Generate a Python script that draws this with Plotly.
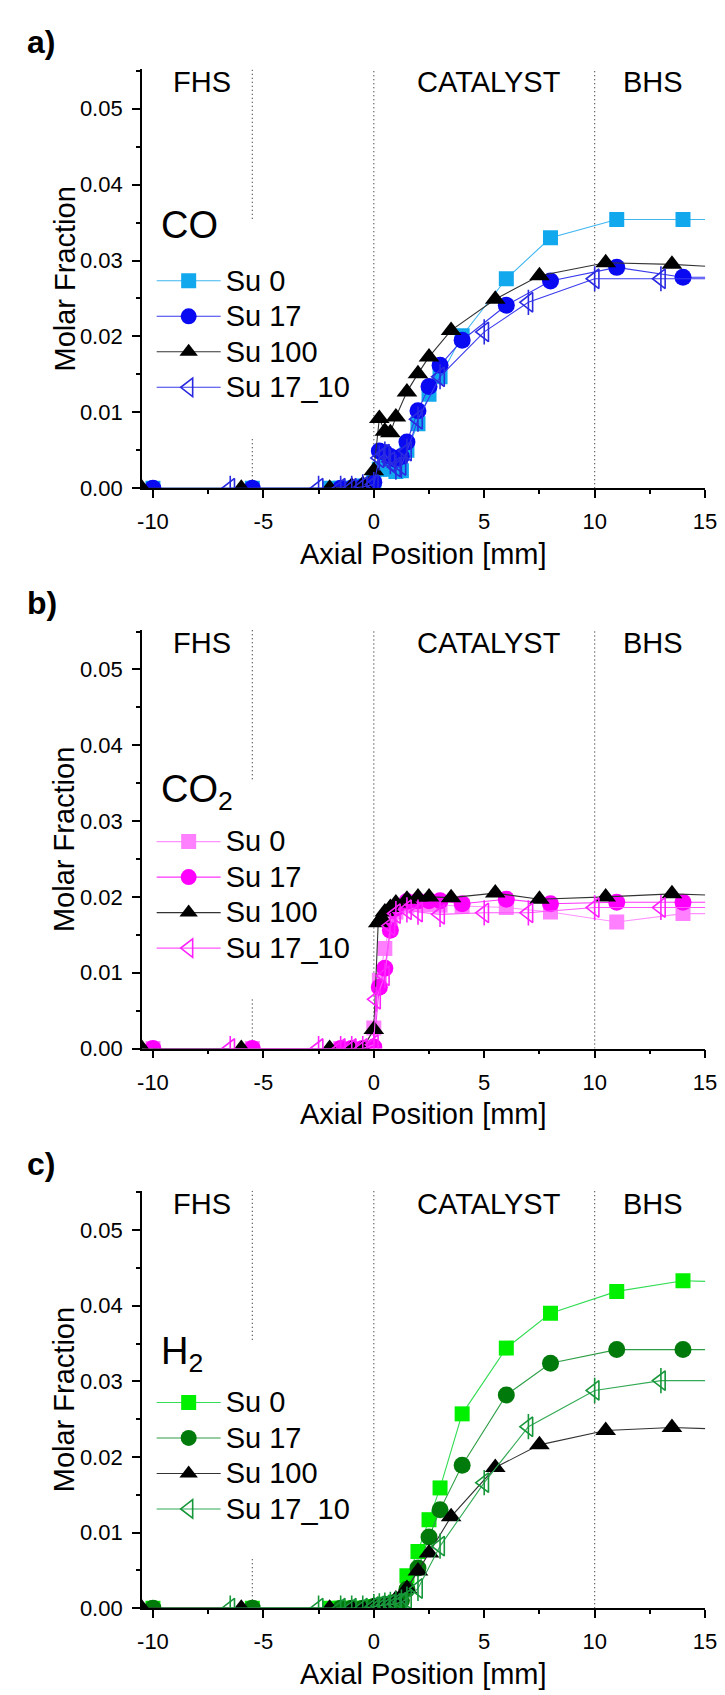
import plotly.graph_objects as go

# ---------------- data ----------------
# Panel a) CO
co_su0_x = [-10, -5.5, -2, -1.5, -1, -0.5, 0, 0.25, 0.5, 0.75, 1.0, 1.25, 1.5, 2.0, 2.5, 3.0, 4.0, 6.0, 8.0, 11.0, 14.0, 17]
co_su0_y = [0, 0, 0, 0, 0, 0.0003, 0.001, 0.0025, 0.003, 0.0025, 0.0022, 0.0023, 0.005, 0.0085, 0.0124, 0.0147, 0.0201, 0.0276, 0.033, 0.0354, 0.0354, 0.0354]
co_su17_x = [-10, -5.5, -1.5, -1, -0.5, 0, 0.25, 0.5, 0.75, 1.0, 1.25, 1.5, 2.0, 2.5, 3.0, 4.0, 6.0, 8.0, 11.0, 14.0, 17]
co_su17_y = [0, 0, 0, 0, 0.0002, 0.0008, 0.0049, 0.0047, 0.0042, 0.0038, 0.0042, 0.0061, 0.0102, 0.0134, 0.0162, 0.0195, 0.0241, 0.0273, 0.0291, 0.0278, 0.0278]
co_su100_x = [-10.5, -6, -2, -1, -0.5, 0, 0.25, 0.5, 0.75, 1.0, 1.5, 2.0, 2.5, 3.5, 5.5, 7.5, 10.5, 13.5, 16.5]
co_su100_y = [0, 0, 0, 0.0003, 0.0005, 0.0023, 0.0092, 0.0075, 0.0073, 0.0094, 0.0127, 0.0151, 0.0173, 0.0208, 0.0249, 0.0280, 0.0297, 0.0295, 0.0290]
co_su1710_x = [-6.5, -2.5, -1.5, -1, -0.5, 0, 0.25, 0.5, 0.75, 1.0, 1.25, 1.5, 2.0, 3.0, 5.0, 7.0, 10.0, 13.0, 17]
co_su1710_y = [0, 0, 0, 0, 0.0002, 0.0005, 0.004, 0.0045, 0.0035, 0.0028, 0.003, 0.0049, 0.0091, 0.0147, 0.0206, 0.0245, 0.0276, 0.0276, 0.0276]

# Panel b) CO2
co2_su0_x = [-10, -5.5, -1.5, -1, -0.5, 0, 0.25, 0.5, 0.75, 1.0, 1.5, 2.0, 2.5, 3.0, 4.0, 6.0, 8.0, 11.0, 14.0, 17]
co2_su0_y = [0, 0, 0, 0, 0, 0.0027, 0.009, 0.0132, 0.0165, 0.018, 0.0188, 0.019, 0.019, 0.0189, 0.0188, 0.0186, 0.018, 0.0167, 0.0178, 0.0178]
co2_su17_x = [-10, -5.5, -1.5, -1, -0.5, 0, 0.25, 0.5, 0.75, 1.0, 1.5, 2.0, 2.5, 3.0, 4.0, 6.0, 8.0, 11.0, 14.0, 17]
co2_su17_y = [0, 0, 0, 0, 0, 0.0002, 0.0081, 0.0106, 0.0156, 0.0185, 0.0194, 0.0195, 0.0195, 0.0195, 0.0191, 0.0197, 0.0191, 0.0193, 0.0193, 0.0193]
co2_su100_x = [-10.5, -6, -2, -1, -0.5, 0, 0.2, 0.35, 0.5, 0.75, 1.0, 1.5, 2.0, 2.5, 3.5, 5.5, 7.5, 10.5, 13.5, 16.5]
co2_su100_y = [0, 0, 0, 0, 0, 0.0025, 0.0166, 0.0172, 0.018, 0.0186, 0.0192, 0.0197, 0.0200, 0.0200, 0.0199, 0.0205, 0.0197, 0.0200, 0.0204, 0.0201]
co2_su1710_x = [-6.5, -2.5, -1.5, -1, -0.5, 0, 0.1, 0.5, 0.75, 1.0, 1.5, 2.0, 3.0, 5.0, 7.0, 10.0, 13.0, 17]
co2_su1710_y = [0, 0, 0, 0, 0, 0.0005, 0.0065, 0.0096, 0.0162, 0.0178, 0.0183, 0.018, 0.0177, 0.0179, 0.0179, 0.0186, 0.0186, 0.0186]

# Panel c) H2
h2_su0_x = [-10, -5.5, -2, -1.5, -1, -0.5, 0, 0.25, 0.5, 0.75, 1.0, 1.5, 2.0, 2.5, 3.0, 4.0, 6.0, 8.0, 11.0, 14.0, 17]
h2_su0_y = [0, 0, 0, 0, 0, 0, 0.0002, 0.0003, 0.0005, 0.0006, 0.0008, 0.0043, 0.0075, 0.0117, 0.0159, 0.0257, 0.0344, 0.0390, 0.0419, 0.0433, 0.0431]
h2_su17_x = [-10, -5.5, -1.5, -1, -0.5, 0, 0.25, 0.5, 0.75, 1.0, 1.25, 1.5, 2.0, 2.5, 3.0, 4.0, 6.0, 8.0, 11.0, 14.0, 17]
h2_su17_y = [0, 0, 0, 0, 0, 0.0002, 0.0003, 0.0004, 0.0005, 0.0007, 0.001, 0.0025, 0.0053, 0.0094, 0.0130, 0.0189, 0.0282, 0.0324, 0.0342, 0.0342, 0.0342]
h2_su100_x = [-10.5, -6, -2, -1, -0.5, 0, 0.5, 1.0, 1.5, 2.0, 2.5, 3.5, 5.5, 7.5, 10.5, 13.5, 16.5]
h2_su100_y = [0, 0, 0, 0, 0, 0.0003, 0.0005, 0.0012, 0.0026, 0.0049, 0.0073, 0.0121, 0.0186, 0.0216, 0.0235, 0.0239, 0.0236]
h2_su1710_x = [-6.5, -2.5, -1.5, -1, -0.5, 0, 0.25, 0.5, 0.75, 1.0, 1.25, 1.5, 2.0, 3.0, 5.0, 7.0, 10.0, 13.0, 17]
h2_su1710_y = [0, 0, 0, 0, 0, 0.0002, 0.0003, 0.0004, 0.0005, 0.0006, 0.0008, 0.0012, 0.0026, 0.0082, 0.0166, 0.0240, 0.0288, 0.0301, 0.0301]

series_names = ["Su 0", "Su 17", "Su 100", "Su 17_10"]
panel_labels = ["a)", "b)", "c)"]
species_labels = ["CO", "CO<sub>2</sub>", "H<sub>2</sub>"]
region_labels = ["FHS", "CATALYST", "BHS"]
region_label_x = [-7.8, 5.23, 12.64]
boundary_x = [-5.5, 0, 10]
x_ticks = [-10, -5, 0, 5, 10, 15]
x_tick_text = ["-10", "-5", "0", "5", "10", "15"]
x_title = "Axial Position [mm]"
y_title = "Molar Fraction"

# ---------------- layout helpers ----------------
W, H = 725, 1695
FONT = "Liberation Sans, Arial, sans-serif"
X_L, X_R = 132.0, 708.7
PANELS = [(61.7, 484.0), (626.8, 1048.6), (1192.0, 1612.5)]  # (top px, bottom px)
Y_MAX = 0.0552


def px_x(p):
    return p / W


def px_y(p):
    return 1 - p / H


panels = [
    dict(data=[(co_su0_x, co_su0_y), (co_su17_x, co_su17_y), (co_su100_x, co_su100_y), (co_su1710_x, co_su1710_y)],
         colors=["#12A8EE", "#0A0AF2", "#000000", "#2A2AE0"],
         lines=["#3FB6F0", "#3A3AEE", "#333333", "#3A3AEE"]),
    dict(data=[(co2_su0_x, co2_su0_y), (co2_su17_x, co2_su17_y), (co2_su100_x, co2_su100_y), (co2_su1710_x, co2_su1710_y)],
         colors=["#FF80FF", "#FF00FF", "#000000", "#FF22FF"],
         lines=["#FF90FF", "#FF33FF", "#333333", "#FF55FF"]),
    dict(data=[(h2_su0_x, h2_su0_y), (h2_su17_x, h2_su17_y), (h2_su100_x, h2_su100_y), (h2_su1710_x, h2_su1710_y)],
         colors=["#00F000", "#007A0A", "#000000", "#17963A"],
         lines=["#33DD55", "#2E9E45", "#333333", "#33AA55"]),
]

fig = go.Figure()
layout = dict(width=W, height=H, margin=dict(l=0, r=0, t=0, b=0),
              paper_bgcolor="white", plot_bgcolor="white", showlegend=True,
              font=dict(family=FONT, color="black"))
annotations = []
shapes = []

symbols = ["square", "circle", "triangle-up", "triangle-left-open"]
sizes = [15, 17, 18, 17]
TXT = 29

for i, p in enumerate(panels):
    n = "" if i == 0 else str(i + 1)
    xa, ya = "x" + n, "y" + n
    leg = "legend" + n
    top, bot = PANELS[i]
    for k, ((xs, ys), name) in enumerate(zip(p["data"], series_names)):
        mk = dict(symbol=symbols[k], size=sizes[k], color=p["colors"][k])
        if k == 3:
            mk["line"] = dict(color=p["colors"][k], width=1.6)
        else:
            mk["line"] = dict(width=0)
        fig.add_trace(go.Scatter(x=xs, y=ys, mode="lines+markers",
                                 name='<span style="font-size:%dpx">%s</span>' % (TXT, name),
                                 xaxis=xa, yaxis=ya, legend=leg,
                                 line=dict(color=p["lines"][k], width=1.1),
                                 marker=mk))
        if k == 3:
            fig.add_trace(go.Scatter(x=xs, y=ys, mode="markers", showlegend=False,
                                     xaxis=xa, yaxis=ya, hoverinfo="skip",
                                     marker=dict(symbol="line-ns-open", size=18, color=p["colors"][k],
                                                 line=dict(color=p["colors"][k], width=1.6))))
    axis_common = dict(showline=True, linecolor="black", linewidth=1.6,
                       ticks="outside", ticklen=8, tickwidth=1.6, tickcolor="black",
                       ticklabelstandoff=5,
                       showgrid=False, zeroline=False,
                       tickfont=dict(family=FONT, size=22, color="black"))
    layout["xaxis" + n] = dict(axis_common, domain=[px_x(X_L), px_x(X_R)], range=[-10.5, 15],
                               tickvals=x_ticks, ticktext=x_tick_text, anchor=ya,
                               minor=dict(ticklen=4, tickwidth=1.6, tickcolor="black", dtick=2.5, tick0=-10, ticks="outside"))
    layout["yaxis" + n] = dict(axis_common, domain=[px_y(bot), px_y(top)], range=[0, Y_MAX],
                               dtick=0.01, tick0=0, tickformat=".2f", anchor=xa,
                               minor=dict(ticklen=4, tickwidth=1.6, tickcolor="black", dtick=0.005, tick0=0, ticks="outside"))
    # legend
    off = top - PANELS[0][0]
    layout[leg] = dict(x=px_x(142), y=px_y(252 + off), xanchor="left", yanchor="top",
                       bgcolor="rgba(0,0,0,0)", itemwidth=64, tracegroupgap=0,
                       font=dict(family=FONT, size=25, color="black"))
    # vertical dotted boundaries
    for bx in boundary_x:
        segs = [(0, Y_MAX)] if bx != -5.5 else [(0, 0.0065), (0.0355, Y_MAX)]
        for y0, y1 in segs:
            shapes.append(dict(type="line", xref=xa, yref=ya, x0=bx, x1=bx, y0=y0, y1=y1,
                               line=dict(color="#333333", width=1.2, dash="1px,3px"), layer="below"))
    # region labels
    for txt, rx in zip(region_labels, region_label_x):
        annotations.append(dict(text=txt, x=rx, xref=xa, y=px_y(top + 12.8), yref="paper",
                                xanchor="center", yanchor="middle", showarrow=False,
                                font=dict(family=FONT, size=TXT, color="black")))
    # species label
    cap_top = [205.4, 774.0, 1340.0][i]
    annotations.append(dict(text=species_labels[i], x=px_x(149), xref="paper", y=px_y(cap_top - 10), yref="paper",
                            xanchor="left", yanchor="top", showarrow=False,
                            font=dict(family=FONT, size=38, color="black")))
    # panel label
    annotations.append(dict(text="<b>" + panel_labels[i] + "</b>", x=px_x(12), xref="paper",
                            y=px_y([34, 600, 1165][i]), yref="paper", xanchor="left", yanchor="middle",
                            showarrow=False, font=dict(family=FONT, size=32, color="black")))
    # axis titles
    annotations.append(dict(text=y_title, x=px_x(53), xref="paper", y=px_y((top + bot) / 2), yref="paper",
                            textangle=-90, xanchor="center", yanchor="middle", showarrow=False,
                            font=dict(family=FONT, size=TXT, color="black")))
    annotations.append(dict(text=x_title, x=px_x((X_L + X_R) / 2), xref="paper", y=px_y(bot + 66), yref="paper",
                            xanchor="center", yanchor="middle", showarrow=False,
                            font=dict(family=FONT, size=TXT, color="black")))

layout["annotations"] = annotations
layout["shapes"] = shapes
fig.update_layout(**layout)
fig.write_html("out.html")
